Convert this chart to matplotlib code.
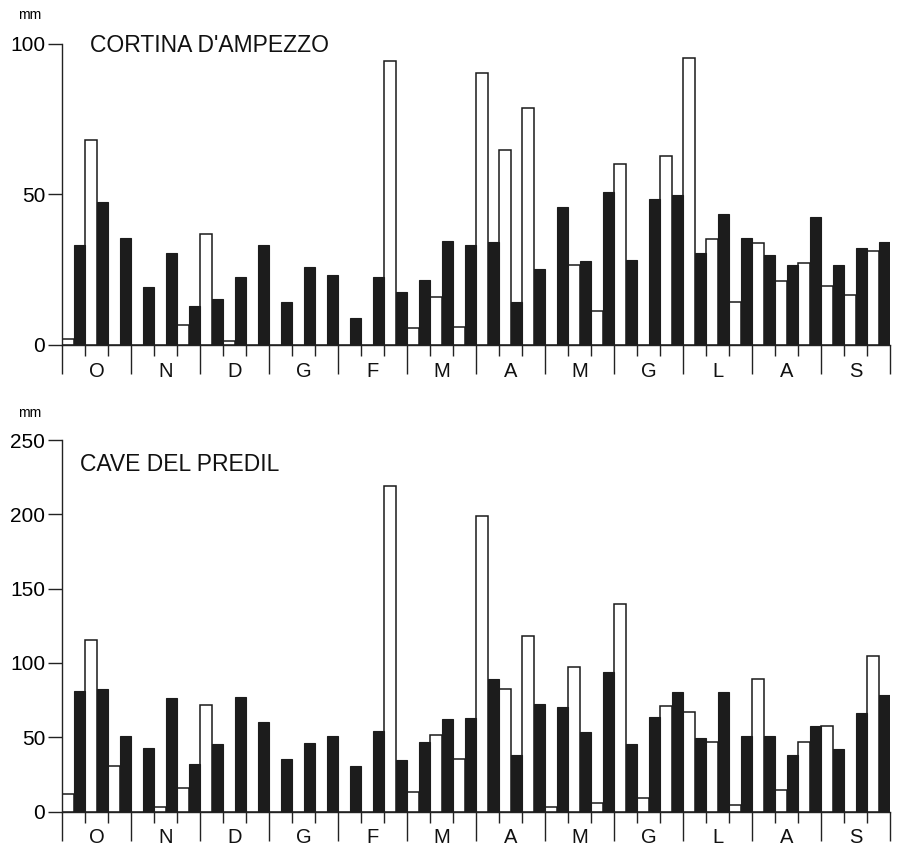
import numpy as np
import matplotlib
matplotlib.use("Agg")
import matplotlib.pyplot as plt
from matplotlib.ticker import FixedLocator

plt.rcParams["font.family"] = ["Liberation Sans", "DejaVu Sans"]

# Mesi (anno idrologico, ottobre-settembre), tre decadi per mese.
months = ["O", "N", "D", "G", "F", "M", "A", "M", "G", "L", "A", "S"]

# Cortina d'Ampezzo (mm per decade): barre bianche e nere.
cortina_white = [2, 68, 0, 0, 0, 6.5, 37, 1.3, 0, 0, 0, 0,
                 0, 0, 94.4, 5.8, 15.9, 6.1, 90.5, 64.7, 78.6, 0, 26.5, 11.3,
                 60, 0, 62.8, 95.4, 35.1, 14.3, 34, 21.3, 27.3, 19.6, 16.5, 31.2]
cortina_black = [33.2, 47.6, 35.4, 19.3, 30.7, 12.8, 15.4, 22.6, 33.1, 14.4, 25.9, 23.3,
                 9.1, 22.7, 17.6, 21.5, 34.4, 33.3, 34.2, 14.4, 25.1, 45.9, 27.9, 50.7,
                 28.1, 48.4, 49.7, 30.7, 43.6, 35.7, 29.8, 26.5, 42.6, 26.5, 32.3, 34.1]

# Cave del Predil (mm per decade).
predil_white = [12, 115.5, 30.3, 0, 2.7, 15.7, 71.8, 0, 0, 0, 0, 0,
                0, 0, 219, 12.8, 51.6, 35.4, 199, 82.3, 118.2, 2.7, 97.5, 5.6,
                139.5, 9.4, 71.3, 67.2, 46.7, 4.5, 89, 14.6, 46.7, 57.6, 0, 104.7]
predil_black = [81.4, 82.3, 50.9, 42.6, 76.7, 31.9, 45.3, 77.3, 60.5, 35.2, 46.4, 50.9,
                30.9, 54.3, 34.8, 46.7, 62.3, 62.8, 89.2, 38.1, 72.2, 70.6, 53.8, 93.7,
                45.3, 63.9, 80.7, 49.4, 80.3, 51.1, 50.9, 38.1, 57.8, 42.2, 66.2, 78.5]

W, H = 900, 849
fig = plt.figure(figsize=(W / 100, H / 100), dpi=100)


def panel(rect, white, black, ymax, yticks, title, title_pos):
    ax = fig.add_axes(rect)
    n = len(white)
    x = np.arange(n)
    ax.bar(x + 0.25, white, width=0.5, color="white", edgecolor="#1a1a1a", linewidth=1.1, zorder=2)
    ax.bar(x + 0.75, black, width=0.5, color="#1c1c1c", edgecolor="#1c1c1c", linewidth=0.8, zorder=3)
    ax.set_xlim(0, n)
    ax.set_ylim(0, ymax)

    for s in ["top", "right"]:
        ax.spines[s].set_visible(False)
    for s in ["left", "bottom"]:
        ax.spines[s].set_linewidth(1.0)
        ax.spines[s].set_color("#222222")

    ax.set_yticks(yticks)
    ax.tick_params(axis="y", length=10, width=1.0, color="#222222", labelsize=15, pad=2)

    ax.xaxis.set_major_locator(FixedLocator(np.arange(0, n + 1, 3)))
    ax.xaxis.set_minor_locator(FixedLocator([i for i in range(n) if i % 3 != 0]))
    ax.tick_params(axis="x", which="major", length=21, width=1.0, color="#222222", labelbottom=False)
    ax.tick_params(axis="x", which="minor", length=8, width=1.0, color="#222222")

    for k, m in enumerate(months):
        ax.annotate(m, xy=(3 * k + 1.5, 0), xycoords=("data", "axes fraction"),
                    xytext=(0, -19), textcoords="offset points",
                    ha="center", va="center", fontsize=14.5, color="#111111")

    ax.text(title_pos[0], title_pos[1], title, transform=ax.transAxes,
            ha="left", va="center", fontsize=16.5, color="#111111")
    return ax


left = 62 / W
width = (890 - 62) / W

panel([left, (H - 345) / H, width, (345 - 44) / H], cortina_white, cortina_black,
      100, [0, 50, 100], "CORTINA D'AMPEZZO", (0.034, 0.995))
panel([left, (H - 811.5) / H, width, (811.5 - 440) / H], predil_white, predil_black,
      250, [0, 50, 100, 150, 200, 250], "CAVE DEL PREDIL", (0.022, 0.933))

fig.text(30 / W, 1 - 15 / H, "mm", ha="center", va="center", fontsize=10)
fig.text(30 / W, 1 - 413 / H, "mm", ha="center", va="center", fontsize=10)

fig.savefig("out.png", dpi=100)
